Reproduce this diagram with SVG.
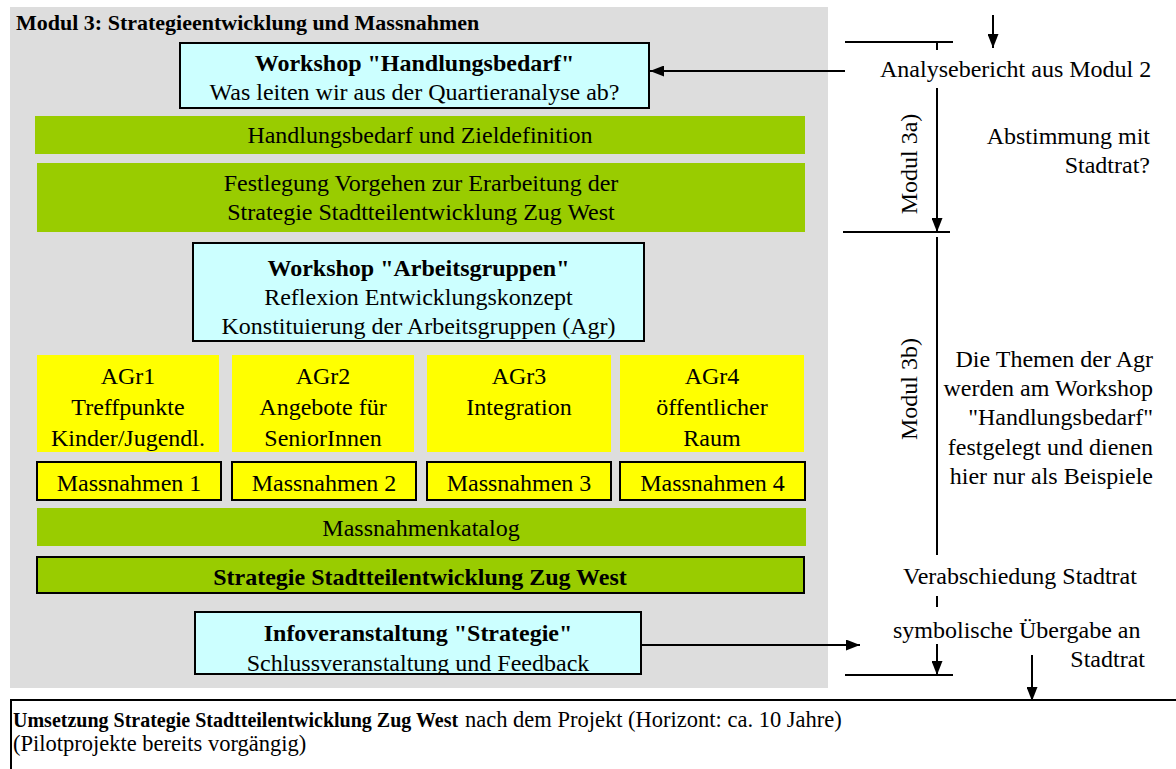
<svg xmlns="http://www.w3.org/2000/svg" width="1176" height="769" viewBox="0 0 1176 769">
<style>
text{font-family:"Liberation Serif","Times New Roman",serif;font-size:24px;fill:#000}
.b{font-weight:bold}
.c{text-anchor:middle}
.e{text-anchor:end}
.ws{fill:#CCFFFF;stroke:#000;stroke-width:2}
.gr{fill:#99CC00}
.grb{fill:#99CC00;stroke:#000;stroke-width:2}
.ye{fill:#FFFF00}
.yeb{fill:#FFFF00;stroke:#000;stroke-width:2}
.ln{stroke:#000;stroke-width:2;fill:none}
</style>
<defs>
<marker id="ah" viewBox="0 0 14 11" refX="14" refY="5.5" markerWidth="14" markerHeight="11" markerUnits="userSpaceOnUse" orient="auto">
<path d="M0,0 L14,5.5 L0,11 z" fill="#000"/>
</marker>
<clipPath id="infoclip"><rect x="195" y="612" width="446" height="62"/></clipPath>
</defs>
<rect id="panel" x="10" y="7" width="818" height="681" fill="#DDDDDD"/>
<text id="title" class="b" x="16" y="30" style="font-size:22px">Modul 3: Strategieentwicklung und Massnahmen</text>

<g id="ws1">
<rect class="ws" x="180" y="43" width="469" height="65"/>
<text class="c b" x="414.5" y="71">Workshop "Handlungsbedarf"</text>
<text class="c" x="414.5" y="100">Was leiten wir aus der Quartieranalyse ab?</text>
</g>
<g id="green1">
<rect class="gr" x="35" y="116" width="770" height="38"/>
<text class="c" x="420" y="143">Handlungsbedarf und Zieldefinition</text>
</g>
<g id="green2">
<rect class="gr" x="37" y="163" width="768" height="69"/>
<text class="c" x="421" y="191">Festlegung Vorgehen zur Erarbeitung der</text>
<text class="c" x="421" y="220">Strategie Stadtteilentwicklung Zug West</text>
</g>
<g id="ws2">
<rect class="ws" x="193" y="243" width="451" height="98"/>
<text class="c b" x="418.5" y="276">Workshop "Arbeitsgruppen"</text>
<text class="c" x="418.5" y="305">Reflexion Entwicklungskonzept</text>
<text class="c" x="418.5" y="334">Konstituierung der Arbeitsgruppen (Agr)</text>
</g>
<g id="agr1">
<rect class="ye" x="37" y="355" width="182" height="97"/>
<text class="c" x="128" y="384">AGr1</text>
<text class="c" x="128" y="415">Treffpunkte</text>
<text class="c" x="128" y="446">Kinder/Jugendl.</text>
</g>
<g id="agr2">
<rect class="ye" x="232" y="355" width="182" height="97"/>
<text class="c" x="323" y="384">AGr2</text>
<text class="c" x="323" y="415">Angebote für</text>
<text class="c" x="323" y="446">SeniorInnen</text>
</g>
<g id="agr3">
<rect class="ye" x="427" y="355" width="184" height="97"/>
<text class="c" x="519" y="384">AGr3</text>
<text class="c" x="519" y="415">Integration</text>
</g>
<g id="agr4">
<rect class="ye" x="620" y="355" width="184" height="97"/>
<text class="c" x="712" y="384">AGr4</text>
<text class="c" x="712" y="415">öffentlicher</text>
<text class="c" x="712" y="446">Raum</text>
</g>
<g id="m1">
<rect class="yeb" x="37" y="462" width="184" height="38"/>
<text class="c" x="129" y="491">Massnahmen 1</text>
</g>
<g id="m2">
<rect class="yeb" x="232" y="462" width="184" height="38"/>
<text class="c" x="324" y="491">Massnahmen 2</text>
</g>
<g id="m3">
<rect class="yeb" x="427" y="462" width="184" height="38"/>
<text class="c" x="519" y="491">Massnahmen 3</text>
</g>
<g id="m4">
<rect class="yeb" x="620" y="462" width="185" height="38"/>
<text class="c" x="712.5" y="491">Massnahmen 4</text>
</g>
<g id="katalog">
<rect class="gr" x="37" y="508" width="769" height="38"/>
<text class="c" x="421" y="536">Massnahmenkatalog</text>
</g>
<g id="strategie">
<rect class="grb" x="37" y="557" width="767" height="36"/>
<text class="c b" x="420" y="585">Strategie Stadtteilentwicklung Zug West</text>
</g>
<g id="info">
<rect x="195" y="612" width="446" height="62" fill="#CCFFFF"/>
<g clip-path="url(#infoclip)">
<text class="c b" x="418" y="641">Infoveranstaltung "Strategie"</text>
<text class="c" x="418" y="671">Schlussveranstaltung und Feedback</text>
</g>
<rect x="195" y="612" width="446" height="62" fill="none" stroke="#000" stroke-width="2"/>
</g>

<g id="side-labels">
<text x="880" y="77">Analysebericht aus Modul 2</text>
<text class="e" x="1150" y="144">Abstimmung mit</text>
<text class="e" x="1150" y="173">Stadtrat?</text>
<text class="c" transform="translate(917,164) rotate(-90)">Modul 3a)</text>
<text class="c" transform="translate(917,389) rotate(-90)">Modul 3b)</text>
<text class="e" x="1153" y="367">Die Themen der Agr</text>
<text class="e" x="1153" y="396">werden am Workshop</text>
<text class="e" x="1153" y="425">"Handlungsbedarf"</text>
<text class="e" x="1153" y="455">festgelegt und dienen</text>
<text class="e" x="1153" y="484">hier nur als Beispiele</text>
<text x="903" y="584">Verabschiedung Stadtrat</text>
<text x="893" y="638">symbolische Übergabe an</text>
<text class="e" x="1145" y="667">Stadtrat</text>
</g>

<g id="connectors">
<line class="ln" x1="993" y1="15" x2="993" y2="48" marker-end="url(#ah)"/>
<line class="ln" x1="845" y1="42" x2="953" y2="42"/>
<line class="ln" x1="937" y1="42" x2="937" y2="50"/>
<line class="ln" x1="845" y1="71" x2="650" y2="71" marker-end="url(#ah)"/>
<line class="ln" x1="937" y1="88" x2="937" y2="232" marker-end="url(#ah)"/>
<line class="ln" x1="843" y1="232" x2="950" y2="232"/>
<line class="ln" x1="937" y1="237" x2="937" y2="555"/>
<line class="ln" x1="937" y1="596" x2="937" y2="607"/>
<line class="ln" x1="641" y1="645" x2="860" y2="645" marker-end="url(#ah)"/>
<line class="ln" x1="937" y1="644" x2="937" y2="675" marker-end="url(#ah)"/>
<line class="ln" x1="845" y1="675" x2="953" y2="675"/>
<line class="ln" x1="1032" y1="655" x2="1032" y2="701" marker-end="url(#ah)"/>
</g>

<g id="umsetzung">
<line class="ln" x1="10" y1="700" x2="1176" y2="700"/>
<line class="ln" x1="11" y1="700" x2="11" y2="769"/>
<text class="b" x="13" y="727" style="font-size:20px">Umsetzung Strategie Stadtteilentwicklung Zug West</text>
<text x="465" y="727" style="font-size:22.5px">nach dem Projekt (Horizont: ca. 10 Jahre)</text>
<text x="13" y="751" style="font-size:22.5px">(Pilotprojekte bereits vorgängig)</text>
</g>
</svg>
